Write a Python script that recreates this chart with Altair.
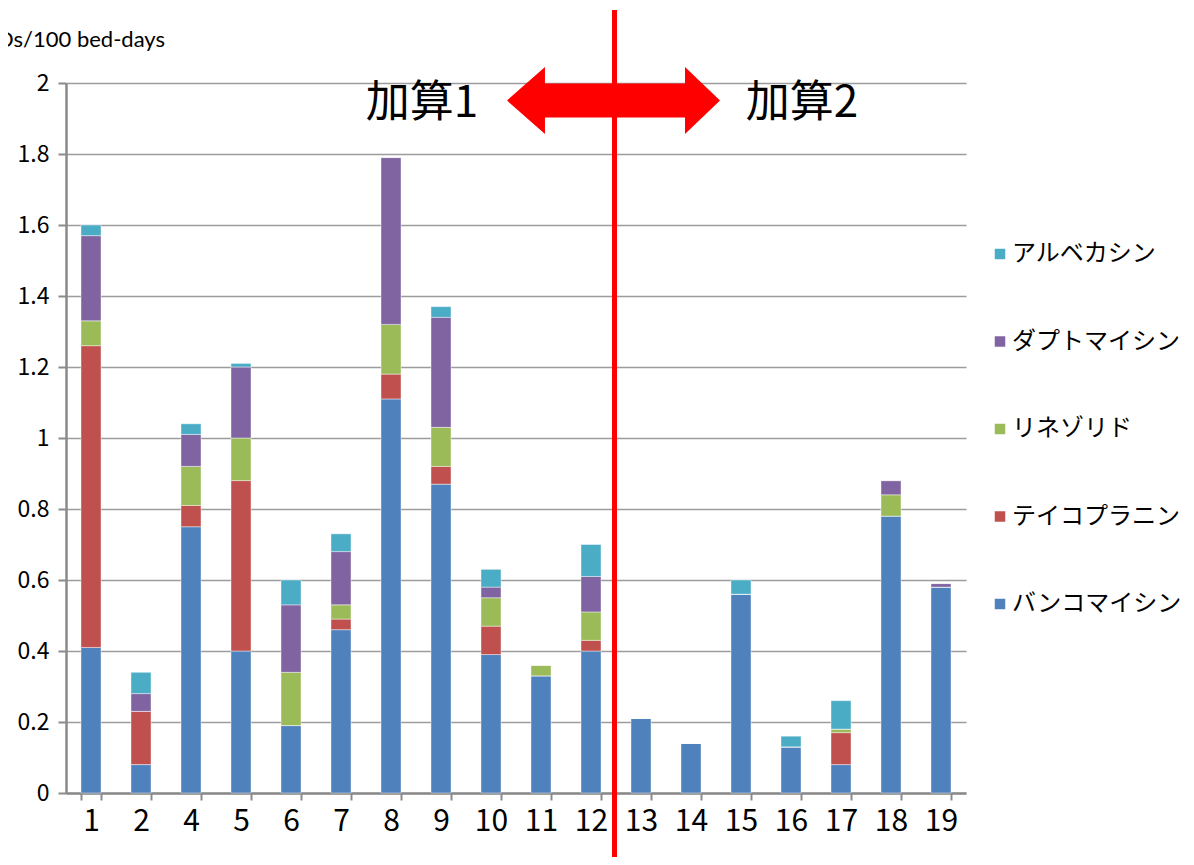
import altair as alt
import pandas as pd

categories = ["1", "2", "4", "5", "6", "7", "8", "9", "10", "11", "12",
              "13", "14", "15", "16", "17", "18", "19"]
vancomycin = [0.41, 0.08, 0.75, 0.40, 0.19, 0.46, 1.11, 0.87, 0.39, 0.33, 0.40,
              0.21, 0.14, 0.56, 0.13, 0.08, 0.78, 0.58]
teicoplanin = [0.85, 0.15, 0.06, 0.48, 0.00, 0.03, 0.07, 0.05, 0.08, 0.00, 0.03,
               0.00, 0.00, 0.00, 0.00, 0.09, 0.00, 0.00]
linezolid = [0.07, 0.00, 0.11, 0.12, 0.15, 0.04, 0.14, 0.11, 0.08, 0.03, 0.08,
             0.00, 0.00, 0.00, 0.00, 0.01, 0.06, 0.00]
daptomycin = [0.24, 0.05, 0.09, 0.20, 0.19, 0.15, 0.47, 0.31, 0.03, 0.00, 0.10,
              0.00, 0.00, 0.00, 0.00, 0.00, 0.04, 0.01]
arbekacin = [0.03, 0.06, 0.03, 0.01, 0.07, 0.05, 0.00, 0.03, 0.05, 0.00, 0.09,
             0.00, 0.00, 0.04, 0.03, 0.08, 0.00, 0.00]

drugs = ["バンコマイシン", "テイコプラニン", "リネゾリド", "ダプトマイシン", "アルベカシン"]
colors = ["#4F81BD", "#C0504D", "#9BBB59", "#8064A2", "#4BACC6"]
series = [vancomycin, teicoplanin, linezolid, daptomycin, arbekacin]

y_ticks = [0, 0.2, 0.4, 0.6, 0.8, 1.0, 1.2, 1.4, 1.6, 1.8, 2.0]
section_labels = ["加算1", "加算2"]
y_title = "DDDs/100 bed-days"

rows = []
for k, (d, vals) in enumerate(zip(drugs, series)):
    for c, v in zip(categories, vals):
        rows.append({"cat": c, "drug": d, "value": v, "ord": k})
df = pd.DataFrame(rows)

JP = "Noto Sans CJK JP"

bars = alt.Chart(df).mark_bar(stroke="#ffffff", strokeWidth=0.6, strokeOpacity=0.7).encode(
    x=alt.X("cat:N", sort=categories,
            scale=alt.Scale(paddingInner=0.6, paddingOuter=0.3),
            axis=alt.Axis(title=None, labelAngle=0, labelFont=JP, labelFontSize=30,
                          labelColor="#000000", labelPadding=6, tickBand="extent",
                          tickSize=7, tickColor="#8a8a8a", tickWidth=2,
                          domainColor="#8a8a8a", domainWidth=2.5, grid=False)),
    y=alt.Y("value:Q", stack="zero",
            scale=alt.Scale(domain=[0, 2], nice=False),
            axis=alt.Axis(title=None, values=y_ticks, format="~f", labelFont=JP,
                          labelFontSize=23, labelColor="#000000", labelPadding=9,
                          tickSize=8, tickColor="#8a8a8a", tickWidth=2,
                          domainColor="#8a8a8a", domainWidth=2.5,
                          grid=True, gridColor="#9c9c9c", gridWidth=1.6)),
    color=alt.Color("drug:N",
                    scale=alt.Scale(domain=drugs[::-1], range=colors[::-1]),
                    legend=alt.Legend(title=None, orient="none", legendX=922, legendY=159,
                                      symbolType="square", symbolSize=110,
                                      symbolStrokeWidth=0, labelFont=JP,
                                      labelFontSize=24, labelColor="#000000",
                                      rowPadding=63.5, labelOffset=0, padding=0,
                                      labelLimit=300)),
    order=alt.Order("ord:Q", sort="ascending"),
)

one = pd.DataFrame({"k": [0]})

left_arrow = "M -1 0 L -0.27 -0.644 L -0.27 -0.327 L 1 -0.327 L 1 0.327 L -0.27 0.327 L -0.27 0.644 Z"
right_arrow = "M 1 0 L 0.358 -0.615 L 0.358 -0.312 L -1 -0.312 L -1 0.312 L 0.358 0.312 L 0.358 0.615 Z"

arrow_l = alt.Chart(one).mark_point(shape=left_arrow, filled=True, color="#FF0000",
                                    opacity=1, size=10816, strokeWidth=0).encode(
    x=alt.value(493), y=alt.value(17.5))
arrow_r = alt.Chart(one).mark_point(shape=right_arrow, filled=True, color="#FF0000",
                                    opacity=1, size=11881, strokeWidth=0).encode(
    x=alt.value(599.5), y=alt.value(17.5))

vline = alt.Chart(one).mark_rule(color="#FF0000", strokeWidth=5).encode(
    x=alt.value(548.5), y=alt.value(-73), y2=alt.value(790))

lab1 = alt.Chart(one).mark_text(text=section_labels[0], font=JP, fontSize=44,
                                color="#000000", align="center", baseline="middle").encode(
    x=alt.value(356), y=alt.value(21))
lab2 = alt.Chart(one).mark_text(text=section_labels[1], font=JP, fontSize=44,
                                color="#000000", align="center", baseline="middle").encode(
    x=alt.value(736), y=alt.value(21))

ytitle = alt.Chart(one).mark_text(text=y_title, font="Lato", fontSize=22,
                                  color="#000000", align="right", baseline="middle").encode(
    x=alt.value(99), y=alt.value(-43))

chart = alt.layer(bars, arrow_l, arrow_r, vline, lab1, lab2, ytitle).properties(
    width=900, height=710,
    autosize=alt.AutoSizeParams(type="none"),
    padding={"left": 58, "top": 75, "right": 220, "bottom": 64},
).configure_view(stroke=None)

chart.save("out.html", embed_options={"renderer": "svg", "actions": False})
